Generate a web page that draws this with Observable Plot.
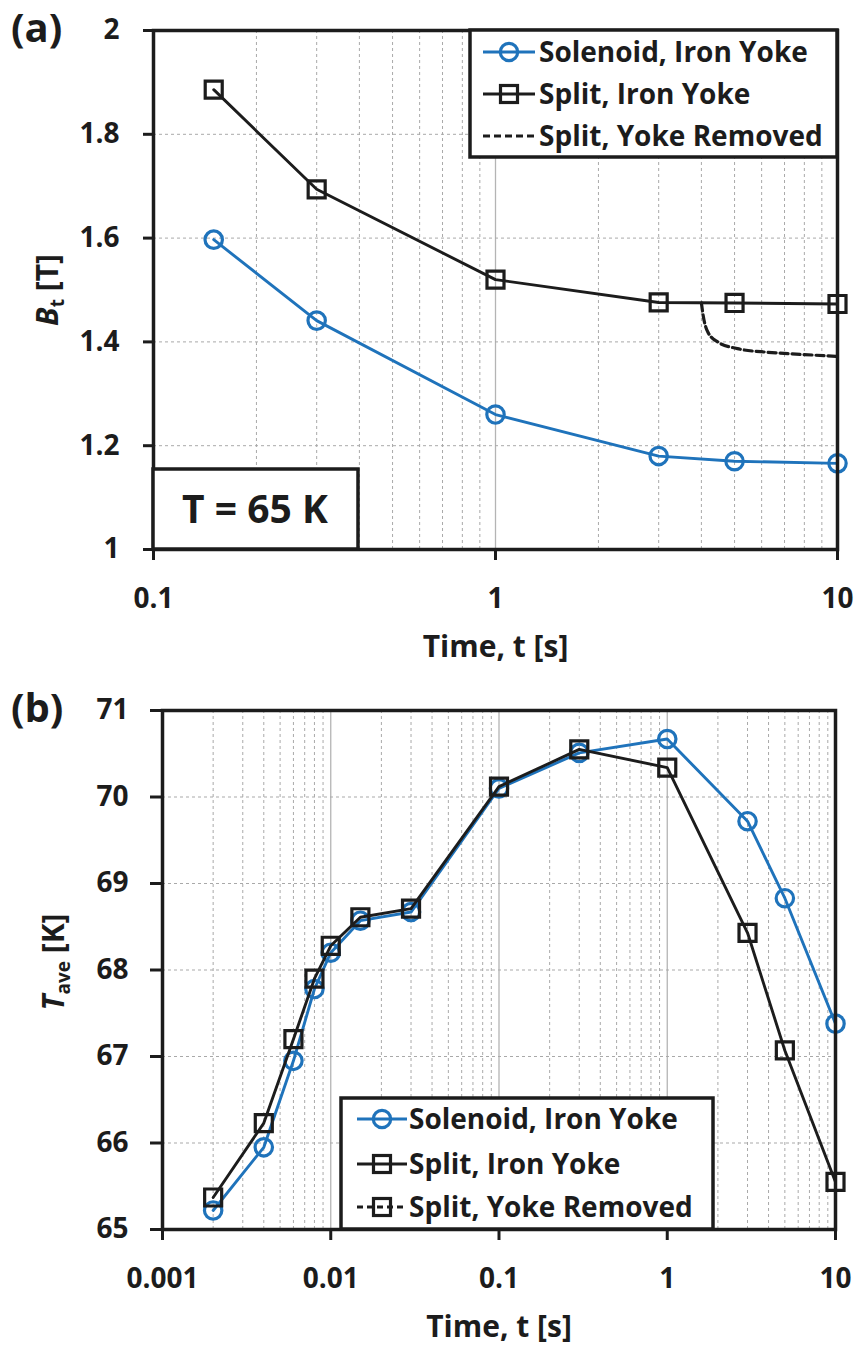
<!DOCTYPE html>
<html><head><meta charset="utf-8">
<script src="https://cdn.jsdelivr.net/npm/d3@7"></script>
<script src="https://cdn.jsdelivr.net/npm/@observablehq/plot@0.6"></script>
<style>
body{margin:0;background:#fff;}
#wrap{position:relative;width:861px;height:1349px;overflow:hidden;background:#fff;}
#wrap svg{display:block;}
</style></head><body><div id="wrap"><div id="a"></div><div id="b"></div></div>
<script>
// ---------- Panel (a): B_t vs time at T = 65 K ----------
const tA = [0.15, 0.3, 1, 3, 5, 10];
const solenoidB = [1.597, 1.441, 1.260, 1.180, 1.170, 1.166];
const splitB = [1.886, 1.694, 1.520, 1.476, 1.475, 1.473];
const tRemovedA = [4, 4.05, 4.17, 4.46, 5.1, 6.25, 7.8, 10];
const removedB = [1.475, 1.45, 1.42, 1.40, 1.387, 1.38, 1.376, 1.372];
const yTicksA = [1, 1.2, 1.4, 1.6, 1.8, 2];
const xTicksA = [0.1, 1, 10];

// ---------- Panel (b): T_ave vs time ----------
const tB = [0.002, 0.004, 0.006, 0.008, 0.01, 0.015, 0.03, 0.1, 0.3, 1, 3, 5, 10];
const solenoidT = [65.22, 65.95, 66.95, 67.78, 68.20, 68.57, 68.67, 70.10, 70.51, 70.67, 69.72, 68.83, 67.38];
const splitT = [65.37, 66.23, 67.20, 67.90, 68.28, 68.61, 68.71, 70.12, 70.55, 70.34, 68.43, 67.07, 65.55];
const yTicksB = [65, 66, 67, 68, 69, 70, 71];
const xTicksB = [0.001, 0.01, 0.1, 1, 10];

const seriesNames = ["Solenoid, Iron Yoke", "Split, Iron Yoke", "Split, Yoke Removed"];
const panelLabels = ["(a)", "(b)"];
const xTitle = "Time, t [s]";
const annotation = "T = 65 K";

const BLUE = "#1f73bb";
const INK = "#1c1c1c";
const GRID = "#a9a9a9";
const FONT = "'Open Sans', 'DejaVu Sans', sans-serif";
const fmt = d3.format("~g");

function minorTicks(lo, hi) {
  const out = [];
  for (let e = Math.round(Math.log10(lo)); e < Math.round(Math.log10(hi)); e++)
    for (let k = 2; k <= 9; k++) out.push(+(k * Math.pow(10, e)).toPrecision(4));
  return out;
}
function majorInner(lo, hi) {
  const out = [];
  for (let e = Math.round(Math.log10(lo)) + 1; e < Math.round(Math.log10(hi)); e++) out.push(+Math.pow(10, e).toPrecision(4));
  return out;
}

function panel({xs, ys1, ys2, extra, xDomain, yDomain, yTicks, xTicks, height, mt, mb, ml, mr, ytSize, ytPad}) {
  const data = xs.map((t, i) => ({t, a: ys1[i], b: ys2[i]}));
  const marks = [
    Plot.ruleX(minorTicks(xDomain[0], xDomain[1]), {stroke: GRID, strokeWidth: 1, strokeDasharray: "3,3"}),
    Plot.ruleX(majorInner(xDomain[0], xDomain[1]), {stroke: "#b4b4b4", strokeWidth: 1.3}),
    Plot.ruleY(yTicks.slice(1, -1), {stroke: GRID, strokeWidth: 1, strokeDasharray: "3,3"}),
  ];
  if (extra) marks.push(Plot.line(extra, {x: "t", y: "v", stroke: INK, strokeWidth: 3.2, strokeDasharray: "8,4", curve: "monotone-x"}));
  marks.push(
    Plot.line(data, {x: "t", y: "a", stroke: BLUE, strokeWidth: 2.9}),
    Plot.dot(data, {x: "t", y: "a", r: 8.7, stroke: BLUE, strokeWidth: 3.2, fill: "none"}),
    Plot.line(data, {x: "t", y: "b", stroke: INK, strokeWidth: 2.9}),
    Plot.dot(data, {x: "t", y: "b", symbol: "square", r: 9.6, stroke: INK, strokeWidth: 3.2, fill: "none"}),
    Plot.frame({stroke: INK, strokeWidth: 3.5}),
    Plot.axisY({ticks: yTicks, tickSize: ytSize, tickPadding: ytPad, tickFormat: fmt, fontSize: 28, fontWeight: "bold", strokeWidth: 3, stroke: INK, fill: INK, label: null}),
    Plot.axisX({ticks: xTicks, tickSize: 11, tickPadding: 28, tickFormat: fmt, fontSize: 28, fontWeight: "bold", strokeWidth: 3, stroke: INK, fill: INK, label: null}),
    Plot.text([xTitle], {frameAnchor: "bottom", dy: 86, lineAnchor: "top", fontSize: 30, fontWeight: "bold", fill: INK})
  );
  return Plot.plot({
    width: 861, height, marginTop: mt, marginBottom: mb, marginLeft: ml, marginRight: mr,
    style: {fontFamily: FONT, background: "#fff", overflow: "visible", color: INK},
    x: {type: "log", domain: xDomain},
    y: {domain: yDomain},
    marks
  });
}

function legend(svg, x0, y0, w, h, rows, lineX0, lineX1, textX, entries) {
  const g = d3.select(svg).append("g").attr("font-family", FONT).attr("text-anchor", "start");
  g.append("rect").attr("x", x0).attr("y", y0).attr("width", w).attr("height", h)
    .attr("fill", "#fff").attr("stroke", INK).attr("stroke-width", 3.5);
  entries.forEach((e, i) => {
    const y = rows[i], cx = (lineX0 + lineX1) / 2;
    g.append("line").attr("x1", lineX0).attr("x2", lineX1).attr("y1", y).attr("y2", y)
      .attr("stroke", e.color).attr("stroke-width", 3).attr("stroke-dasharray", e.dash || null);
    if (e.symbol === "circle")
      g.append("circle").attr("cx", cx).attr("cy", y).attr("r", 8.7).attr("fill", "none").attr("stroke", e.color).attr("stroke-width", 3.2);
    if (e.symbol === "square")
      g.append("rect").attr("x", cx - 8.5).attr("y", y - 8.5).attr("width", 17).attr("height", 17).attr("fill", "none").attr("stroke", e.color).attr("stroke-width", 3.2);
    g.append("text").attr("x", textX).attr("y", y).attr("dy", "0.36em").attr("font-size", 28).attr("font-weight", "bold")
      .attr("text-anchor", "start").attr("fill", INK).text(e.name);
  });
}

function yLabel(svg, x, y, main, sub, rest) {
  const t = d3.select(svg).append("text").attr("transform", `translate(${x},${y}) rotate(-90)`)
    .attr("text-anchor", "middle").attr("font-family", FONT).attr("font-weight", "bold").attr("font-size", 30).attr("fill", INK);
  t.append("tspan").attr("font-style", "italic").text(main);
  t.append("tspan").attr("font-size", 19).attr("dy", 6).text(sub);
  t.append("tspan").attr("dy", -6).text(" " + rest);
}

function cornerLabel(svg, x, y, txt) {
  d3.select(svg).append("text").attr("x", x).attr("y", y).attr("font-family", FONT).attr("font-weight", "bold")
    .attr("text-anchor", "start").attr("font-size", 40).attr("fill", INK).text(txt);
}

// ----- build (a) -----
const svgA = panel({
  xs: tA, ys1: solenoidB, ys2: splitB,
  extra: tRemovedA.map((t, i) => ({t, v: removedB[i]})),
  xDomain: [0.1, 10], yDomain: [1, 2], yTicks: yTicksA, xTicks: xTicksA,
  height: 670, mt: 30, mb: 121, ml: 153, mr: 24, ytSize: 10, ytPad: 24
});
document.getElementById("a").appendChild(svgA);
{
  const g = d3.select(svgA).append("g").attr("font-family", FONT);
  g.append("rect").attr("x", 153).attr("y", 469).attr("width", 205).attr("height", 80)
    .attr("fill", "#fff").attr("stroke", INK).attr("stroke-width", 3.5);
  g.append("text").attr("x", 255).attr("y", 523).attr("text-anchor", "middle").attr("font-size", 39)
    .attr("font-weight", "bold").attr("fill", INK).text(annotation);
}
legend(svgA, 470, 30, 367, 127, [52, 94, 136], 483, 535, 539, [
  {name: seriesNames[0], color: BLUE, symbol: "circle"},
  {name: seriesNames[1], color: INK, symbol: "square"},
  {name: seriesNames[2], color: INK, dash: "7,4"}
]);
yLabel(svgA, 58, 290, "B", "t", "[T]");
cornerLabel(svgA, 11, 42, panelLabels[0]);

// ----- build (b) -----
const svgB = panel({
  xs: tB, ys1: solenoidT, ys2: splitT, extra: null,
  xDomain: [0.001, 10], yDomain: [65, 71], yTicks: yTicksB, xTicks: xTicksB,
  height: 679, mt: 40, mb: 120, ml: 162, mr: 26, ytSize: 12, ytPad: 22
});
document.getElementById("b").appendChild(svgB);
legend(svgB, 341, 428, 372, 131, [449, 494, 537], 357, 407, 409, [
  {name: seriesNames[0], color: BLUE, symbol: "circle"},
  {name: seriesNames[1], color: INK, symbol: "square"},
  {name: seriesNames[2], color: INK, symbol: "square", dash: "6,4"}
]);
yLabel(svgB, 64, 292, "T", "ave", "[K]");
cornerLabel(svgB, 11, 52, panelLabels[1]);
</script></body></html>
